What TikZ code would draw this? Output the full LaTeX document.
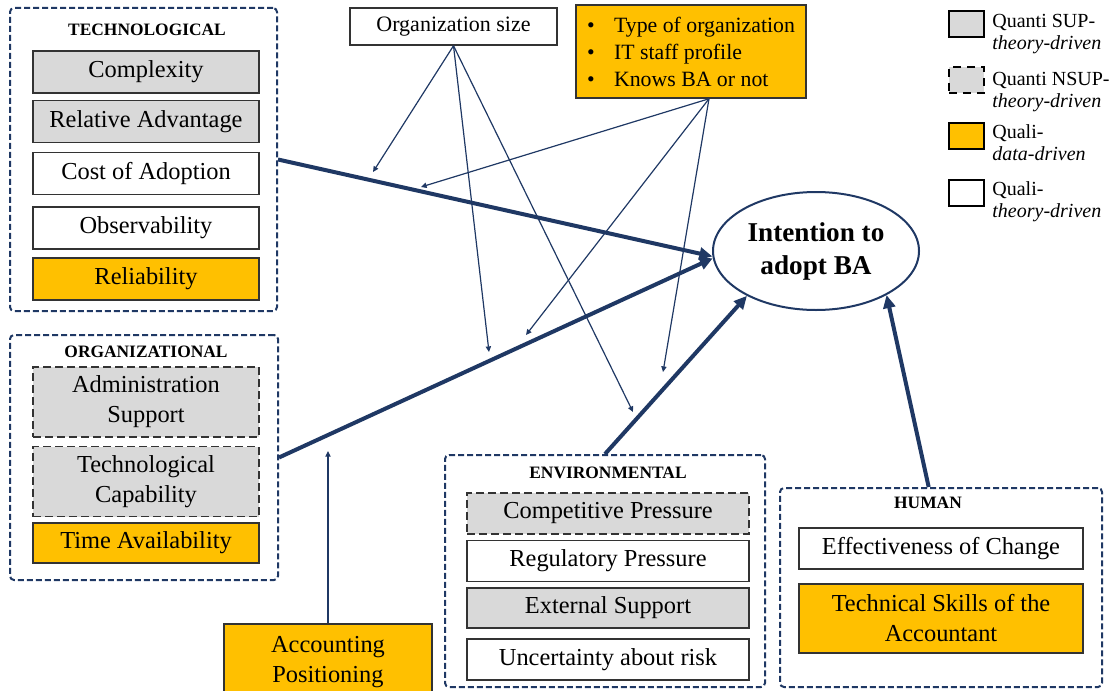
\documentclass[tikz,border=0pt]{standalone}
\usepackage{fontspec}
\setmainfont{Liberation Serif}
\usetikzlibrary{arrows.meta,shapes.geometric}
\definecolor{navy}{HTML}{1F3864}
\definecolor{boxgray}{HTML}{D9D9D9}
\definecolor{gold}{HTML}{FFC000}
\definecolor{rim}{HTML}{333333}
\begin{document}
\begin{tikzpicture}[x=0.5pt,y=-0.5pt,
	fnode/.style = {shape = rectangle,
	                draw = rim,
	                line width = 0.75pt,
	                minimum width = 113pt,
	                minimum height = 21pt,
	                inner sep = 1pt,
	                align = center,
	                font = \fontsize{12.2}{15}\selectfont},
	quanti/.style = {fnode, fill = boxgray},
	nsup/.style = {fnode, fill = boxgray, dash pattern = on 4pt off 2pt},
	quali/.style = {fnode, fill = gold},
	theo/.style = {fnode, fill = white},
	group/.style = {draw = navy, line width = 1pt, dash pattern = on 3pt off 1.5pt,
	                rounded corners = 2pt, inner sep = 0pt},
	gtitle/.style = {font = \fontsize{8.7}{10}\selectfont\bfseries, inner sep = 0pt},
	main/.style = {draw = navy, line width = 2pt, -{Triangle[length = 6.5pt, width = 6pt]}},
	thin/.style = {draw = navy, line width = 0.6pt, -{Triangle[length = 2.8pt, width = 2.6pt]}},
	legbox/.style = {draw = black, line width = 1.2pt, minimum width = 17.5pt,
	                 minimum height = 13pt, inner sep = 0pt},
	legtext/.style = {anchor = west, align = left, inner sep = 0pt,
	                  font = \fontsize{10}{11}\selectfont}]
	\useasboundingbox (0,0) rectangle (1111,690);
	\clip (0,0) rectangle (1111,690);
	% group frames
	\node[group, minimum width = 133.5pt, minimum height = 151.5pt] (tech) at (143.5,159.5) {};
	\node[group, minimum width = 134pt, minimum height = 122.5pt] (org) at (144,457.5) {};
	\node[group, minimum width = 160pt, minimum height = 116pt] (env) at (605,571) {};
	\node[group, minimum width = 161pt, minimum height = 99.5pt] (human) at (941,587.5) {};
	\node[gtitle] (ttech) at (147,30) {TECHNOLOGICAL};
	\node[gtitle] (torg) at (146,352) {ORGANIZATIONAL};
	\node[gtitle] (tenv) at (608,473) {ENVIRONMENTAL};
	\node[gtitle] (thum) at (928,503) {HUMAN};
	% technological
	\node[quanti] (cplx) at (146,72) {Complexity};
	\node[quanti] (radv) at (146,121.5) {Relative Advantage};
	\node[theo] (cost) at (146,173.5) {Cost of Adoption};
	\node[theo] (obs) at (146,228) {Observability};
	\node[quali] (rel) at (146,279) {Reliability};
	% organizational
	\node[nsup, minimum height = 35pt] (adm) at (146,402) {Administration\\Support};
	\node[nsup, minimum height = 35pt] (tcap) at (146,481.5) {Technological\\Capability};
	\node[quali, minimum height = 20pt] (time) at (146,543) {Time Availability};
	% environmental
	\node[nsup, minimum width = 141pt, minimum height = 20.5pt] (comp) at (608,513.5) {Competitive Pressure};
	\node[theo, minimum width = 141pt, minimum height = 20.5pt] (reg) at (608,561) {Regulatory Pressure};
	\node[quanti, minimum width = 141pt, minimum height = 20pt] (ext) at (608,608) {External Support};
	\node[theo, minimum width = 141pt, minimum height = 20.5pt] (unc) at (608,659.5) {Uncertainty about risk};
	% human
	\node[theo, minimum width = 142pt, minimum height = 20.5pt] (eff) at (941,548.5) {Effectiveness of Change};
	\node[quali, minimum width = 142pt, minimum height = 34.5pt] (skill) at (941,618.5) {Technical Skills of the\\Accountant};
	% moderators
	\node[quali, minimum width = 104pt, minimum height = 38pt] (acc) at (328,662) {Accounting\\Positioning};
	\node[theo, minimum width = 103.5pt, minimum height = 18.5pt, font = \fontsize{11}{13}\selectfont] (osize) at (453.5,26.5) {Organization size};
	\node[quali, minimum width = 115pt, minimum height = 46.5pt, align = left,
	      font = \fontsize{10.9}{13.5}\selectfont] (ctrl) at (691,51.5)
	      {\makebox[13.5pt][l]{\textbullet}Type of organization\\
	       \makebox[13.5pt][l]{\textbullet}IT staff profile\\
	       \makebox[13.5pt][l]{\textbullet}Knows BA or not};
	% outcome
	\node[ellipse, draw = navy, line width = 1pt, fill = white, minimum width = 103pt,
	      minimum height = 59pt, inner sep = 0pt, align = center,
	      font = \fontsize{13.6}{16.5}\selectfont\bfseries] (intent) at (816,251) {Intention to\\adopt BA};
	% legend
	\node[legbox, fill = boxgray] (l1) at (966.5,24) {};
	\node[legbox, fill = boxgray, dash pattern = on 4pt off 3pt] (l2) at (966.5,80) {};
	\node[legbox, fill = gold] (l3) at (966.5,136) {};
	\node[legbox, fill = white] (l4) at (966.5,193) {};
	\node[legtext] (s1) at (992,34) {Quanti SUP-\\\textit{theory-driven}};
	\node[legtext] (s2) at (992,92) {Quanti NSUP-\\\textit{theory-driven}};
	\node[legtext] (s3) at (992,143) {Quali-\\\textit{data-driven}};
	\node[legtext] (s4) at (992,202) {Quali-\\\textit{theory-driven}};
	% ends of the moderating arrows
	\coordinate (a1) at (373,172);
	\coordinate (a2) at (489,352);
	\coordinate (a3) at (633,412);
	\coordinate (b1) at (421,187);
	\coordinate (b2) at (526,335);
	\coordinate (b3) at (663,372);
	\coordinate (p0) at (328,451);
	\path (tech.east) edge[main] (intent.183);
	\path (org.east) edge[main] (intent.184);
	\path (env.north) edge[main] (intent.213);
	\path (human.97) edge[main] (intent.328);
	\path (osize.south) edge[thin] (a1);
	\path (osize.south) edge[thin] (a2);
	\path (osize.south) edge[thin] (a3);
	\path ([xshift = 9pt]ctrl.south) edge[thin] (b1);
	\path ([xshift = 9pt]ctrl.south) edge[thin] (b2);
	\path ([xshift = 9pt]ctrl.south) edge[thin] (b3);
	\path (acc.north) edge[thin] (p0);
\end{tikzpicture}
\end{document}
